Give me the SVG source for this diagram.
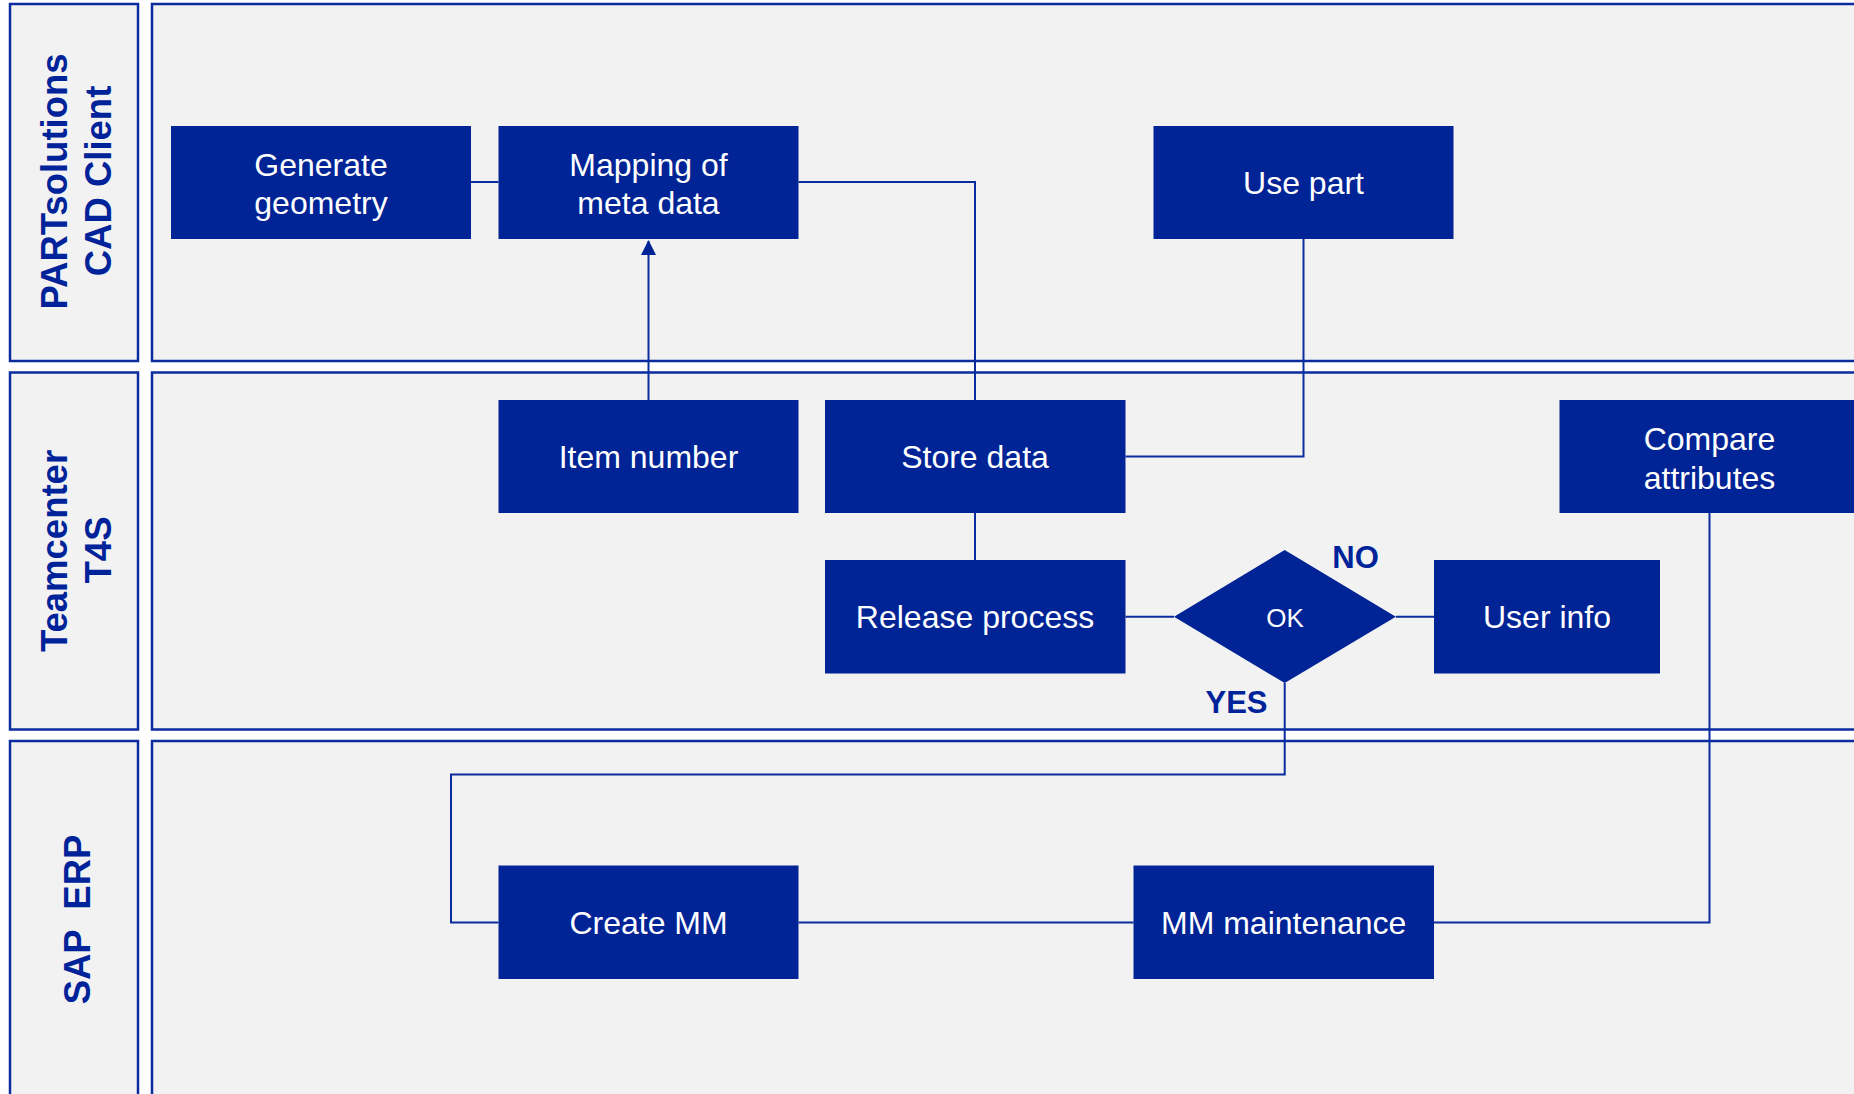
<svg xmlns="http://www.w3.org/2000/svg" width="1854" height="1094" viewBox="0 0 1854 1094">
<defs>
<style>
.lane{fill:#F2F2F2;stroke:#0A2C9E;stroke-width:2.5}
.box{fill:#002395}
.bt{font-family:"Liberation Sans",Arial,sans-serif;font-size:32px;fill:#FFFFFF;text-anchor:middle}
.lt{font-family:"Liberation Sans",Arial,sans-serif;font-size:36.5px;font-weight:bold;fill:#00239A;text-anchor:middle}
.yn{font-family:"Liberation Sans",Arial,sans-serif;font-size:31px;font-weight:bold;fill:#00239A;text-anchor:middle}
.con{fill:none;stroke:#0A2C9E;stroke-width:2}
</style>
<marker id="arr" markerUnits="userSpaceOnUse" markerWidth="16" markerHeight="16" refX="14" refY="7.5" orient="auto">
<path d="M0,0 L15,7.5 L0,15 Z" fill="#002395"/>
</marker>
</defs>
<rect x="0" y="0" width="1854" height="1094" fill="#FFFFFF"/>
<g id="lanes">
<g id="lane-partsolutions">
<rect class="lane" x="10" y="4" width="128" height="357"/>
<rect class="lane" x="152" y="4" width="1760" height="357"/>
<text class="lt" transform="translate(67,181.5) rotate(-90)">PARTsolutions</text>
<text class="lt" transform="translate(111,181) rotate(-90)">CAD Client</text>
</g>
<g id="lane-teamcenter">
<rect class="lane" x="10" y="372.5" width="128" height="357"/>
<rect class="lane" x="152" y="372.5" width="1760" height="357"/>
<text class="lt" transform="translate(67,551) rotate(-90)">Teamcenter</text>
<text class="lt" transform="translate(110.5,550) rotate(-90)">T4S</text>
</g>
<g id="lane-sap">
<rect class="lane" x="10" y="741" width="128" height="360"/>
<rect class="lane" x="152" y="741" width="1760" height="360"/>
<text class="lt" transform="translate(90,919.5) rotate(-90)" xml:space="preserve" style="white-space:pre">SAP  ERP</text>
</g>
</g>
<g id="connectors">
<path class="con" d="M471 182 H498.5"/>
<path class="con" d="M798.5 182 H975 V400"/>
<path class="con" d="M648.5 400 V241" marker-end="url(#arr)"/>
<path class="con" d="M1303.5 239 V456.5 H1125.5"/>
<path class="con" d="M975 513 V560"/>
<path class="con" d="M1125.5 616.7 H1174"/>
<path class="con" d="M1395.8 616.7 H1434"/>
<path class="con" d="M1284.7 683 V774.5 H451 V922.4 H498.5"/>
<path class="con" d="M798.5 922.4 H1133.5"/>
<path class="con" d="M1434 922.4 H1709.5 V513"/>
</g>
<g id="node-generate">
<rect class="box" x="171" y="126" width="300" height="113"/>
<text class="bt" x="321" y="175.5">Generate</text>
<text class="bt" x="321" y="214">geometry</text>
</g>
<g id="node-mapping">
<rect class="box" x="498.5" y="126" width="300" height="113"/>
<text class="bt" x="648.5" y="175.5">Mapping of</text>
<text class="bt" x="648.5" y="214">meta data</text>
</g>
<g id="node-usepart">
<rect class="box" x="1153.5" y="126" width="300" height="113"/>
<text class="bt" x="1303.5" y="193.5">Use part</text>
</g>
<g id="node-item">
<rect class="box" x="498.5" y="400" width="300" height="113"/>
<text class="bt" x="648.5" y="468">Item number</text>
</g>
<g id="node-store">
<rect class="box" x="825" y="400" width="300.5" height="113"/>
<text class="bt" x="975" y="468">Store data</text>
</g>
<g id="node-compare">
<rect class="box" x="1559.5" y="400" width="300" height="113"/>
<text class="bt" x="1709.5" y="450">Compare</text>
<text class="bt" x="1709.5" y="488.5">attributes</text>
</g>
<g id="node-release">
<rect class="box" x="825" y="560" width="300.5" height="113.5"/>
<text class="bt" x="975" y="628">Release process</text>
</g>
<g id="node-ok">
<polygon class="box" points="1174,616.8 1284.7,550 1395.8,616.8 1284.7,683"/>
<text class="bt" x="1285" y="626.5" style="font-size:26px">OK</text>
</g>
<g id="node-userinfo">
<rect class="box" x="1434" y="560" width="226" height="113.5"/>
<text class="bt" x="1547" y="628">User info</text>
</g>
<g id="node-createmm">
<rect class="box" x="498.5" y="865.5" width="300" height="113.5"/>
<text class="bt" x="648.5" y="933.5">Create MM</text>
</g>
<g id="node-mmmaint">
<rect class="box" x="1133.5" y="865.5" width="300.5" height="113.5"/>
<text class="bt" x="1283.7" y="933.5">MM maintenance</text>
</g>
<g id="labels">
<text class="yn" x="1355.5" y="568">NO</text>
<text class="yn" x="1236.5" y="713">YES</text>
</g>
</svg>
